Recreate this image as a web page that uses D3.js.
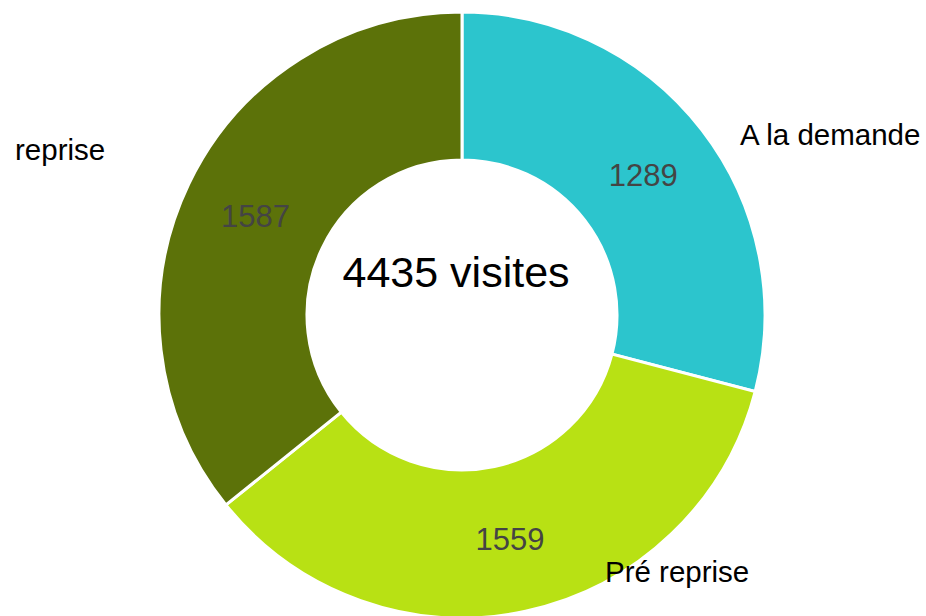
<!DOCTYPE html>
<html>
<head>
<meta charset="utf-8">
<script src="https://cdn.jsdelivr.net/npm/d3@7"></script>
<style>
  html, body { margin: 0; padding: 0; background: #fff; }
  svg { display: block; font-family: Arial, "Liberation Sans", sans-serif; }
</style>
</head>
<body>
<div id="container"></div>
<script>
// données
const categories = ["A la demande", "Pré reprise", "reprise"];
const values = [1289, 1559, 1587];
const colors = ["#2cc5cd", "#b8e114", "#5c7209"];
const centerLabel = "4435 visites";

// mise en page
const svgWidth = 926;
const svgHeight = 616;
const center = [462, 315];
const outerRadius = 303;
const innerRadius = 155;
// placement des étiquettes extérieures (relatif au centre)
const outerLabelLayout = [
  { dx: 278, dy: -170, anchor: "start" },
  { dx: 143, dy: 267, anchor: "start" },
  { dx: -447, dy: -155, anchor: "start" }
];

const data = categories.map((c, i) => ({ name: c, value: values[i], color: colors[i] }));

const pie = d3.pie().sort(null).value(d => d.value);
const arc = d3.arc().innerRadius(innerRadius).outerRadius(outerRadius);
const labelArc = d3.arc().innerRadius((innerRadius + outerRadius) / 2).outerRadius((innerRadius + outerRadius) / 2);

const svg = d3.select("#container")
  .append("svg")
  .attr("width", svgWidth)
  .attr("height", svgHeight);

const g = svg.append("g")
  .attr("transform", `translate(${center})`);

const arcs = pie(data);

g.selectAll("path.slice")
  .data(arcs)
  .enter()
  .append("path")
  .attr("class", "slice")
  .attr("d", arc)
  .attr("fill", d => d.data.color)
  .attr("stroke", "#fff")
  .attr("stroke-width", 3);

// valeurs
g.selectAll("text.value")
  .data(arcs)
  .enter()
  .append("text")
  .attr("class", "value")
  .attr("transform", d => `translate(${labelArc.centroid(d)})`)
  .attr("dy", "0.36em")
  .attr("text-anchor", "middle")
  .attr("font-size", 31)
  .attr("fill", "#444")
  .text(d => d.data.value);

// étiquettes
g.selectAll("text.name")
  .data(arcs)
  .enter()
  .append("text")
  .attr("class", "name")
  .attr("x", (d, i) => outerLabelLayout[i].dx)
  .attr("y", (d, i) => outerLabelLayout[i].dy)
  .attr("text-anchor", (d, i) => outerLabelLayout[i].anchor)
  .attr("font-size", 29.5)
  .attr("fill", "#000")
  .text(d => d.data.name);

// total au centre
g.append("text")
  .attr("x", -6)
  .attr("y", -28)
  .attr("text-anchor", "middle")
  .attr("font-size", 43)
  .attr("fill", "#000")
  .text(centerLabel);
</script>
</body>
</html>
